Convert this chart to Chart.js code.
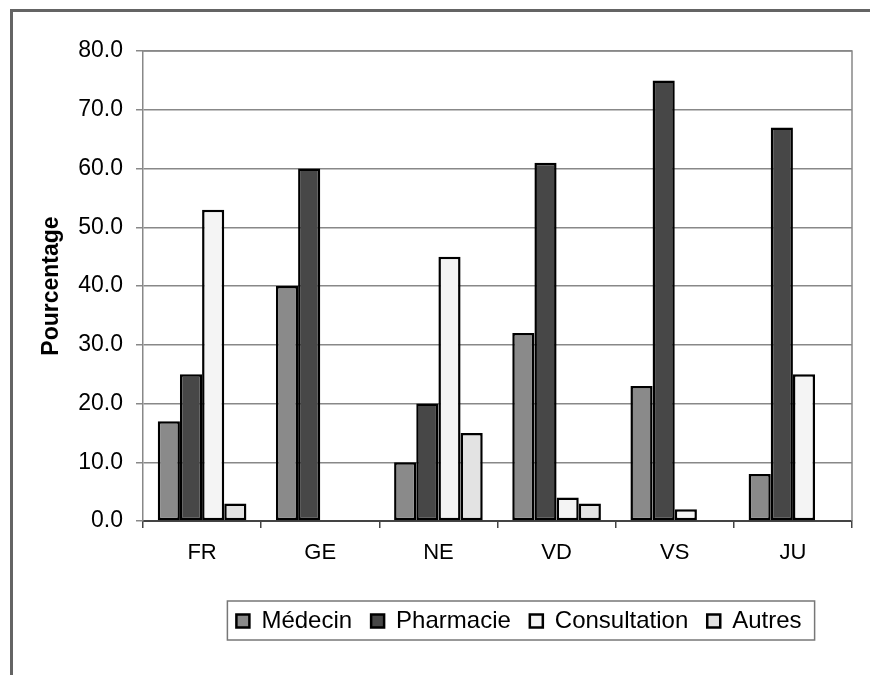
<!DOCTYPE html>
<html>
<head>
<meta charset="utf-8">
<script src="https://cdn.jsdelivr.net/npm/chart.js@4/dist/chart.umd.min.js"></script>
<style>
html,body{margin:0;padding:0;background:#fff;overflow:hidden;width:870px;height:675px;}
#frame{position:absolute;left:10px;top:9px;width:1000px;height:1000px;border-left:3px solid #646464;border-top:3px solid #646464;}
#c{position:absolute;left:0;top:0;}
</style>
</head>
<body>
<div id="frame"></div>
<canvas id="c" width="870" height="675"></canvas>
<script>
// cantons
let categories=['FR','GE','NE','VD','VS','JU'];
// pourcentages par type de source
let medecin=[17,40,10,32,23,8];
let pharmacie=[25,60,20,61,75,67];
let consultation=[53,null,45,4,2,25];
let autres=[3,null,15,3,null,null];
let yTicks=[0,10,20,30,40,50,60,70,80];

// plot frame on the right side + legend box
let framePlugin={
    id:'frame',
    afterLayout(chart){
        let lg=chart.legend;
        lg.left+=78;
        lg.right+=78;
    },
    beforeDatasetsDraw(chart){
        let a=chart.chartArea, ctx=chart.ctx;
        ctx.save();
        ctx.strokeStyle='#888';
        ctx.lineWidth=1.5;
        ctx.beginPath();
        ctx.moveTo(a.left,a.top);
        ctx.lineTo(a.right,a.top);
        ctx.lineTo(a.right,a.bottom);
        ctx.stroke();
        ctx.restore();
    },
    afterDraw(chart){
        let lg=chart.legend, ctx=chart.ctx;
        let pad=lg.options.labels.padding;
        let lw=lg.lineWidths[0];
        let start=(lg.left+pad+lg.right-lw)/2;
        let end=start+lw-pad;
        ctx.save();
        ctx.strokeStyle='#777';
        ctx.lineWidth=1.5;
        ctx.strokeRect(start-9,lg.top+11,end-start+22,39);
        ctx.restore();
    }
};

new Chart('c',{
    type:'bar',
    data:{
        labels:categories,
        datasets:[
            {label:'Médecin',data:medecin,backgroundColor:'#8a8a8a'},
            {label:'Pharmacie',data:pharmacie,backgroundColor:'#474747'},
            {label:'Consultation',data:consultation,backgroundColor:'#f4f4f4'},
            {label:'Autres',data:autres,backgroundColor:'#e3e3e3'}
        ]
    },
    options:{
        responsive:false,
        animation:false,
        layout:{autoPadding:false,padding:{left:30,top:51,right:18,bottom:32}},
        datasets:{bar:{borderColor:'#000',borderWidth:2.5,borderSkipped:false,barPercentage:1,categoryPercentage:0.75}},
        plugins:{
            tooltip:{enabled:false},
            legend:{
                position:'bottom',
                labels:{
                    color:'#000',
                    font:{family:'Arial, "Liberation Sans"',size:24},
                    boxWidth:13,boxHeight:13,padding:19
                }
            }
        },
        scales:{
            x:{
                grid:{drawOnChartArea:false,color:'#444',lineWidth:1.5,tickLength:7},
                border:{color:'#444',width:2},
                ticks:{color:'#000',font:{family:'Arial, "Liberation Sans"',size:22},padding:12},
                afterFit(s){s.height=69;}
            },
            y:{
                min:0,max:80,
                afterBuildTicks(s){s.ticks=yTicks.map(v=>({value:v}));},
                grid:{color:'#888',lineWidth:1.5,tickLength:7},
                border:{color:'#888',width:1.5},
                ticks:{color:'#000',font:{family:'Arial, "Liberation Sans"',size:23},padding:13,
                    callback:v=>v.toFixed(1)},
                title:{display:true,text:'Pourcentage',color:'#000',
                    font:{family:'Arial, "Liberation Sans"',size:23,weight:'bold'},padding:{top:8,bottom:0}},
                afterFit(s){s.width=113;}
            }
        }
    },
    plugins:[framePlugin]
});
</script>
</body>
</html>
